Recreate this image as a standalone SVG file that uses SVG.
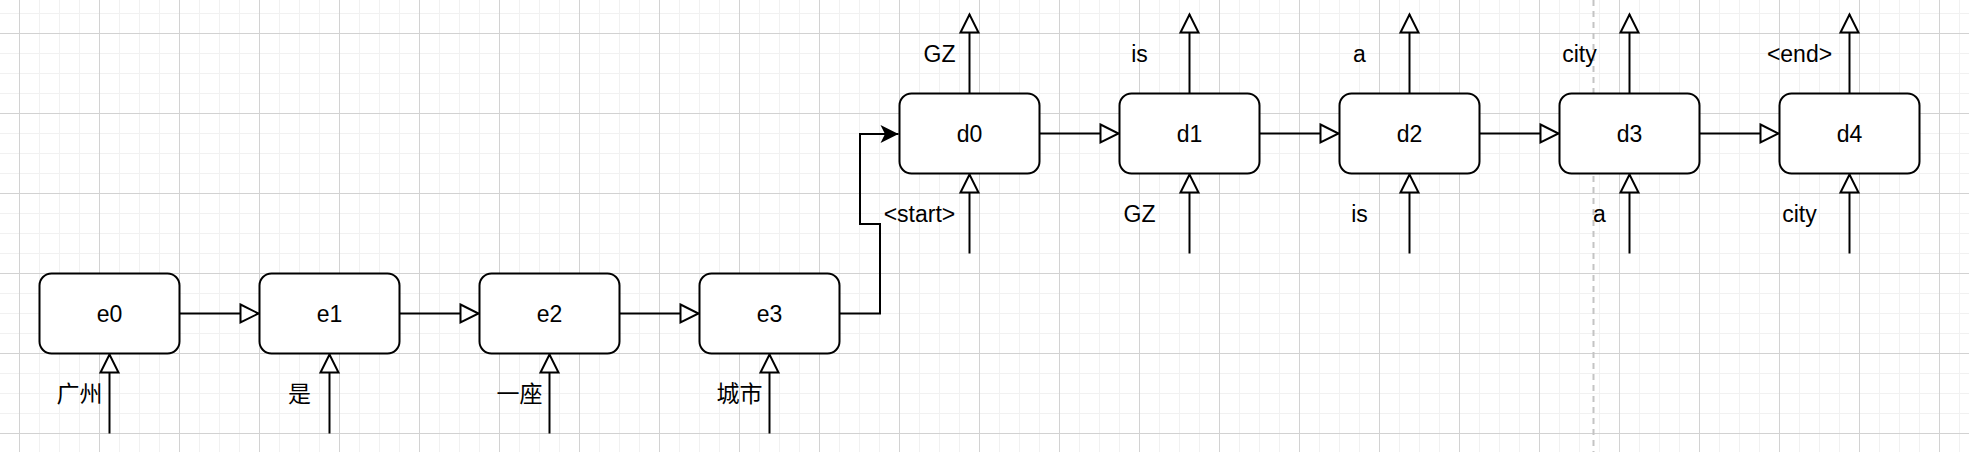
<svg xmlns="http://www.w3.org/2000/svg" width="1969" height="452" viewBox="0 0 1969 452">
<style>
.box{fill:#fff;stroke:#000;stroke-width:2}
.lbl{font-family:"Liberation Sans",Arial,sans-serif;font-size:23px;fill:#000;text-anchor:middle}
.cjk{font-family:"Noto Sans CJK SC","Liberation Sans",sans-serif;font-size:23px;fill:#000;text-anchor:middle}
.edge{fill:none;stroke:#000;stroke-width:2}
.open{marker-end:url(#openArrow)}
</style>
<defs>
<pattern id="minor" patternUnits="userSpaceOnUse" x="19" y="13" width="20" height="20">
<path d="M0.5,0V20M0,0.5H20" stroke="#f1f1f1" stroke-width="1" fill="none"/>
</pattern>
<pattern id="major" patternUnits="userSpaceOnUse" x="19" y="33" width="80" height="80">
<path d="M0.5,0V80M0,0.5H80" stroke="#d2d2d2" stroke-width="1" fill="none"/>
</pattern>
<marker id="openArrow" markerUnits="userSpaceOnUse" viewBox="0 0 22 20" markerWidth="22" markerHeight="20" refX="19" refY="10" orient="auto" overflow="visible">
<path d="M1,1L19,10L1,19Z" fill="#fff" stroke="#000" stroke-width="2"/>
</marker>
<marker id="filledArrow" markerUnits="userSpaceOnUse" viewBox="0 0 20 20" markerWidth="20" markerHeight="20" refX="18" refY="10" orient="auto" overflow="visible">
<path d="M0,1L18,10L0,19L4.5,10Z" fill="#000" stroke="none"/>
</marker>
</defs>
<g id="background">
<rect width="1969" height="452" fill="#fff"/>
<rect width="1969" height="452" fill="url(#minor)"/>
<rect width="1969" height="452" fill="url(#major)"/>
<line x1="1593.5" y1="0" x2="1593.5" y2="452" stroke="#c4c4c4" stroke-width="2" stroke-dasharray="6 5"/>
</g>
<g id="connectors">
<path class="edge open" d="M179.5,313.5H258.5"/>
<path class="edge open" d="M399.5,313.5H478.5"/>
<path class="edge open" d="M619.5,313.5H698.5"/>
<path class="edge" d="M839.5,313.5H880V224H860V134H898.5" marker-end="url(#filledArrow)"/>
<path class="edge open" d="M1039.5,133.5H1118.5"/>
<path class="edge open" d="M1259.5,133.5H1338.5"/>
<path class="edge open" d="M1479.5,133.5H1558.5"/>
<path class="edge open" d="M1699.5,133.5H1778.5"/>
<path class="edge open" d="M109.5,433.5V354.5"/>
<path class="edge open" d="M329.5,433.5V354.5"/>
<path class="edge open" d="M549.5,433.5V354.5"/>
<path class="edge open" d="M769.5,433.5V354.5"/>
<path class="edge open" d="M969.5,253.5V174.5"/>
<path class="edge open" d="M1189.5,253.5V174.5"/>
<path class="edge open" d="M1409.5,253.5V174.5"/>
<path class="edge open" d="M1629.5,253.5V174.5"/>
<path class="edge open" d="M1849.5,253.5V174.5"/>
<path class="edge open" d="M969.5,93.5V14.5"/>
<path class="edge open" d="M1189.5,93.5V14.5"/>
<path class="edge open" d="M1409.5,93.5V14.5"/>
<path class="edge open" d="M1629.5,93.5V14.5"/>
<path class="edge open" d="M1849.5,93.5V14.5"/>
</g>
<g id="labels">
<text class="cjk" x="79.5" y="402">广州</text>
<text class="cjk" x="299.5" y="402">是</text>
<text class="cjk" x="519.5" y="402">一座</text>
<text class="cjk" x="739.5" y="402">城市</text>
<text class="lbl" x="939.5" y="62">GZ</text>
<text class="lbl" x="1139.5" y="62">is</text>
<text class="lbl" x="1359.5" y="62">a</text>
<text class="lbl" x="1579.5" y="62">city</text>
<text class="lbl" x="1799.5" y="62">&lt;end&gt;</text>
<text class="lbl" x="919.5" y="222">&lt;start&gt;</text>
<text class="lbl" x="1139.5" y="222">GZ</text>
<text class="lbl" x="1359.5" y="222">is</text>
<text class="lbl" x="1599.5" y="222">a</text>
<text class="lbl" x="1799.5" y="222">city</text>
</g>
<g id="e0"><rect class="box" x="39.5" y="273.5" width="140" height="80" rx="12"/><text class="lbl" x="109.5" y="321.5">e0</text></g>
<g id="e1"><rect class="box" x="259.5" y="273.5" width="140" height="80" rx="12"/><text class="lbl" x="329.5" y="321.5">e1</text></g>
<g id="e2"><rect class="box" x="479.5" y="273.5" width="140" height="80" rx="12"/><text class="lbl" x="549.5" y="321.5">e2</text></g>
<g id="e3"><rect class="box" x="699.5" y="273.5" width="140" height="80" rx="12"/><text class="lbl" x="769.5" y="321.5">e3</text></g>
<g id="d0"><rect class="box" x="899.5" y="93.5" width="140" height="80" rx="12"/><text class="lbl" x="969.5" y="141.5">d0</text></g>
<g id="d1"><rect class="box" x="1119.5" y="93.5" width="140" height="80" rx="12"/><text class="lbl" x="1189.5" y="141.5">d1</text></g>
<g id="d2"><rect class="box" x="1339.5" y="93.5" width="140" height="80" rx="12"/><text class="lbl" x="1409.5" y="141.5">d2</text></g>
<g id="d3"><rect class="box" x="1559.5" y="93.5" width="140" height="80" rx="12"/><text class="lbl" x="1629.5" y="141.5">d3</text></g>
<g id="d4"><rect class="box" x="1779.5" y="93.5" width="140" height="80" rx="12"/><text class="lbl" x="1849.5" y="141.5">d4</text></g>
</svg>
